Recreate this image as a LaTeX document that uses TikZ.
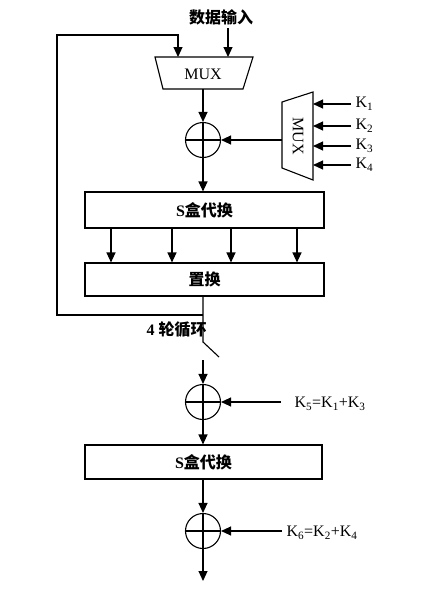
\documentclass[tikz,border=0pt]{standalone}
\usepackage{fontspec}
\setmainfont{Liberation Serif}
\newfontfamily\cjk{Noto Sans CJK SC}
\usetikzlibrary{arrows.meta}
\begin{document}
\begin{tikzpicture}[x=1pt,y=-1pt,line width=1.1pt,
  arr/.style={-{Triangle[length=10pt,width=9pt]}},
  xorc/.style={circle,draw,minimum size=35pt,inner sep=0pt},
  boxn/.style={draw,minimum width=239pt,inner sep=0pt,font=\fontsize{16}{18}\selectfont},
  lbl/.style={inner sep=0pt,font=\fontsize{16}{18}\selectfont},
  klbl/.style={inner sep=0pt,anchor=west,font=\fontsize{16}{18}\selectfont}]
\useasboundingbox (0,0) rectangle (426,589);

% top input
\node[lbl] (din) at (221,17) {\cjk\bfseries 数据输入};
\coordinate (dinb) at (228,28);

% MUX 1
\draw (155,57) -- (253,57) -- (243,89) -- (163,89) -- cycle;
\node[lbl] (mux1) at (203,74) {MUX};
\coordinate (m1in1) at (178,57);
\coordinate (m1in2) at (228,57);
\coordinate (m1out) at (203,89);

% XOR 1
\node[xorc] (x1) at (203,140) {};
\draw (x1.west) -- (x1.east);

% key MUX
\draw (282,102) -- (313,92) -- (313,180) -- (282,168) -- cycle;
\node[lbl,rotate=-90] (mux2) at (298,136) {MUX};
\coordinate (m2out) at (282,140);
\foreach \y/\n in {104/1,126/2,146/3,165/4}{
  \node[klbl] (k\n) at (355,\y) {K\textsubscript{\n}};
  \coordinate (m2in\n) at (313,\y);
  \coordinate (k\n a) at (351,\y);
  \draw[arr] (k\n a) -- (m2in\n);
}

% S box 1
\node[boxn,minimum height=36pt] (s1) at (204.5,210) {\textbf{S}{\cjk\bfseries 盒代换}};
% permutation
\node[boxn,minimum height=33pt] (p) at (204.5,279.5) {\cjk\bfseries 置换};

% feedback
\coordinate (fbj) at (203,315);
\coordinate (fbl) at (57,315);
\coordinate (fbt) at (57,35);
\coordinate (fbr) at (178,35);
\coordinate (sw1) at (203,342);
\coordinate (sw2) at (219,357);
\coordinate (sw3) at (203,360);
\node[lbl,anchor=west] (rounds) at (146,330) {\textbf{4} {\cjk\bfseries 轮循环}};

% XOR 2, S box 2, XOR 3
\node[xorc] (x2) at (203,402) {};
\draw (x2.west) -- (x2.east);
\node[boxn,minimum width=237pt,minimum height=34pt] (s2) at (203.5,462) {\textbf{S}{\cjk\bfseries 盒代换}};
\node[xorc] (x3) at (203,531) {};
\draw (x3.west) -- (x3.east);
\coordinate (out) at (203,581);

\node[klbl] (k5) at (294,404) {K\textsubscript{5}=K\textsubscript{1}+K\textsubscript{3}};
\node[klbl] (k6) at (286,533) {K\textsubscript{6}=K\textsubscript{2}+K\textsubscript{4}};
\coordinate (k5a) at (281,402);
\coordinate (k6a) at (282,531);

% connectors
\draw[arr] (dinb) -- (m1in2);
\draw[arr] (fbj) -- (fbl) -- (fbt) -- (fbr) -- (m1in1);
\draw[arr] (m1out) -- (x1.north);
\draw (x1.north) -- (x1.south);
\draw[arr] (m2out) -- (x1.east);
\draw[arr] (x1.south) -- (s1.north -| x1);
\foreach \xx in {111,172,231,297}{
  \draw[arr] (s1.south -| \xx,0) -- (p.north -| \xx,0);
}
\draw (p.south -| x1) -- (sw1) -- (sw2);
\draw[arr] (sw3) -- (x2.north);
\draw (x2.north) -- (x2.south);
\draw[arr] (k5a) -- (x2.east);
\draw[arr] (x2.south) -- (s2.north -| x2);
\draw[arr] (s2.south -| x3) -- (x3.north);
\draw (x3.north) -- (x3.south);
\draw[arr] (k6a) -- (x3.east);
\draw[arr] (x3.south) -- (out);
\end{tikzpicture}
\end{document}
